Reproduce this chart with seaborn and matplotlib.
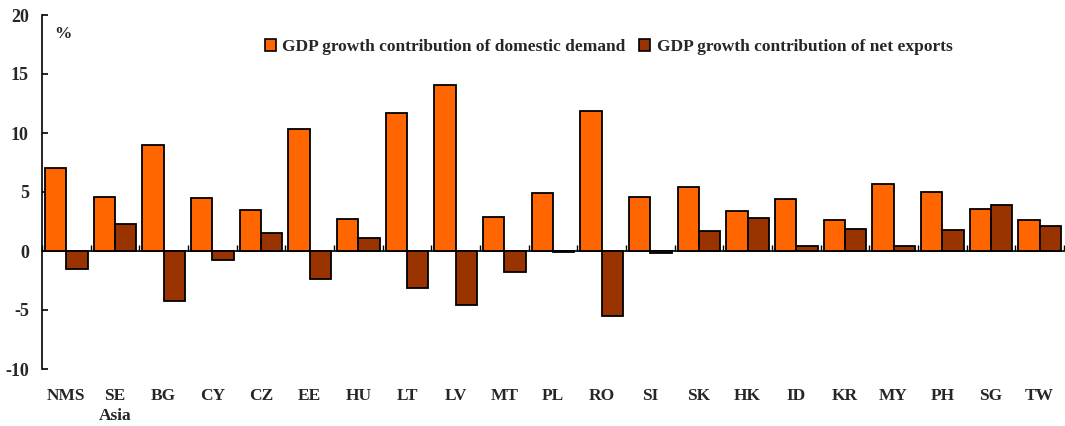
import matplotlib
matplotlib.use("Agg")
import matplotlib.pyplot as plt
import seaborn as sns
import pandas as pd
import numpy as np

categories = ["NMS", "SE\nAsia", "BG", "CY", "CZ", "EE", "HU", "LT", "LV", "MT", "PL",
              "RO", "SI", "SK", "HK", "ID", "KR", "MY", "PH", "SG", "TW"]
domestic = [7.0, 4.6, 9.0, 4.5, 3.5, 10.3, 2.7, 11.7, 14.1, 2.9, 4.9,
            11.9, 4.6, 5.4, 3.4, 4.4, 2.6, 5.7, 5.0, 3.6, 2.6]
net_exports = [-1.5, 2.3, -4.2, -0.8, 1.5, -2.4, 1.1, -3.1, -4.6, -1.8, -0.1,
               -5.5, -0.2, 1.7, 2.8, 0.4, 1.9, 0.4, 1.8, 3.9, 2.1]
series_names = ["GDP growth contribution of domestic demand",
                "GDP growth contribution of net exports"]
colors = ["#FF6600", "#993300"]

df = pd.DataFrame({
    "cat": categories * 2,
    "val": domestic + net_exports,
    "series": [series_names[0]] * len(categories) + [series_names[1]] * len(categories),
})

sns.set_style("white")
plt.rcParams["font.family"] = ["Liberation Serif", "DejaVu Serif"]
plt.rcParams["font.weight"] = "bold"
plt.rcParams["axes.unicode_minus"] = False

FS = 12.5

fig = plt.figure(figsize=(10.65, 4.26), dpi=100)
ax = fig.add_axes([42 / 1065, 1 - 369 / 426, 1 - 42 / 1065 - 0.001, (369 - 15) / 426])

sns.barplot(data=df, x="cat", y="val", hue="series", palette=colors, saturation=1,
            width=0.88, edgecolor="black", linewidth=1.3, ax=ax, order=categories,
            hue_order=series_names)

ax.set_xlim(-0.5, len(categories) - 0.5)
ax.set_ylim(-10, 20)
ax.set_yticks(range(-10, 21, 5))
ax.set_xlabel("")
ax.set_ylabel("")

for s in ["top", "right"]:
    ax.spines[s].set_visible(False)
ax.spines["left"].set_color("black")
ax.spines["left"].set_linewidth(1.2)
ax.spines["bottom"].set_position(("data", 0))
ax.spines["bottom"].set_color("black")
ax.spines["bottom"].set_linewidth(1.2)
ax.spines["bottom"].set_zorder(0.5)

ax.tick_params(axis="y", direction="in", length=4, width=1.2, color="black",
               labelsize=13, pad=9.5, left=True)
for lbl in ax.get_yticklabels():
    lbl.set_fontweight("bold")

ax.set_xticks(range(len(categories)))
ax.set_xticklabels(categories, fontsize=FS, fontweight="bold", linespacing=1.25)
ax.tick_params(axis="x", which="major", length=0, pad=99)
ax.set_xticks(np.arange(-0.5, len(categories), 1.0), minor=True)
ax.tick_params(axis="x", which="minor", direction="in", length=4, width=1,
               color="black", bottom=True)

ax.text(0.012, 0.945, "%", transform=ax.transAxes, fontsize=FS, fontweight="bold",
        ha="left", va="center")

ax.legend(loc="center left", bbox_to_anchor=(0.211, 0.91), ncol=2, frameon=False,
          prop={"family": "Liberation Serif", "weight": "bold", "size": FS},
          handlelength=0.65, handleheight=0.75, handletextpad=0.35, columnspacing=0.8,
          borderaxespad=0)
for h in ax.get_legend().legend_handles:
    h.set_edgecolor("black")
    h.set_linewidth(1.2)

fig.savefig("out.png", dpi=100)
